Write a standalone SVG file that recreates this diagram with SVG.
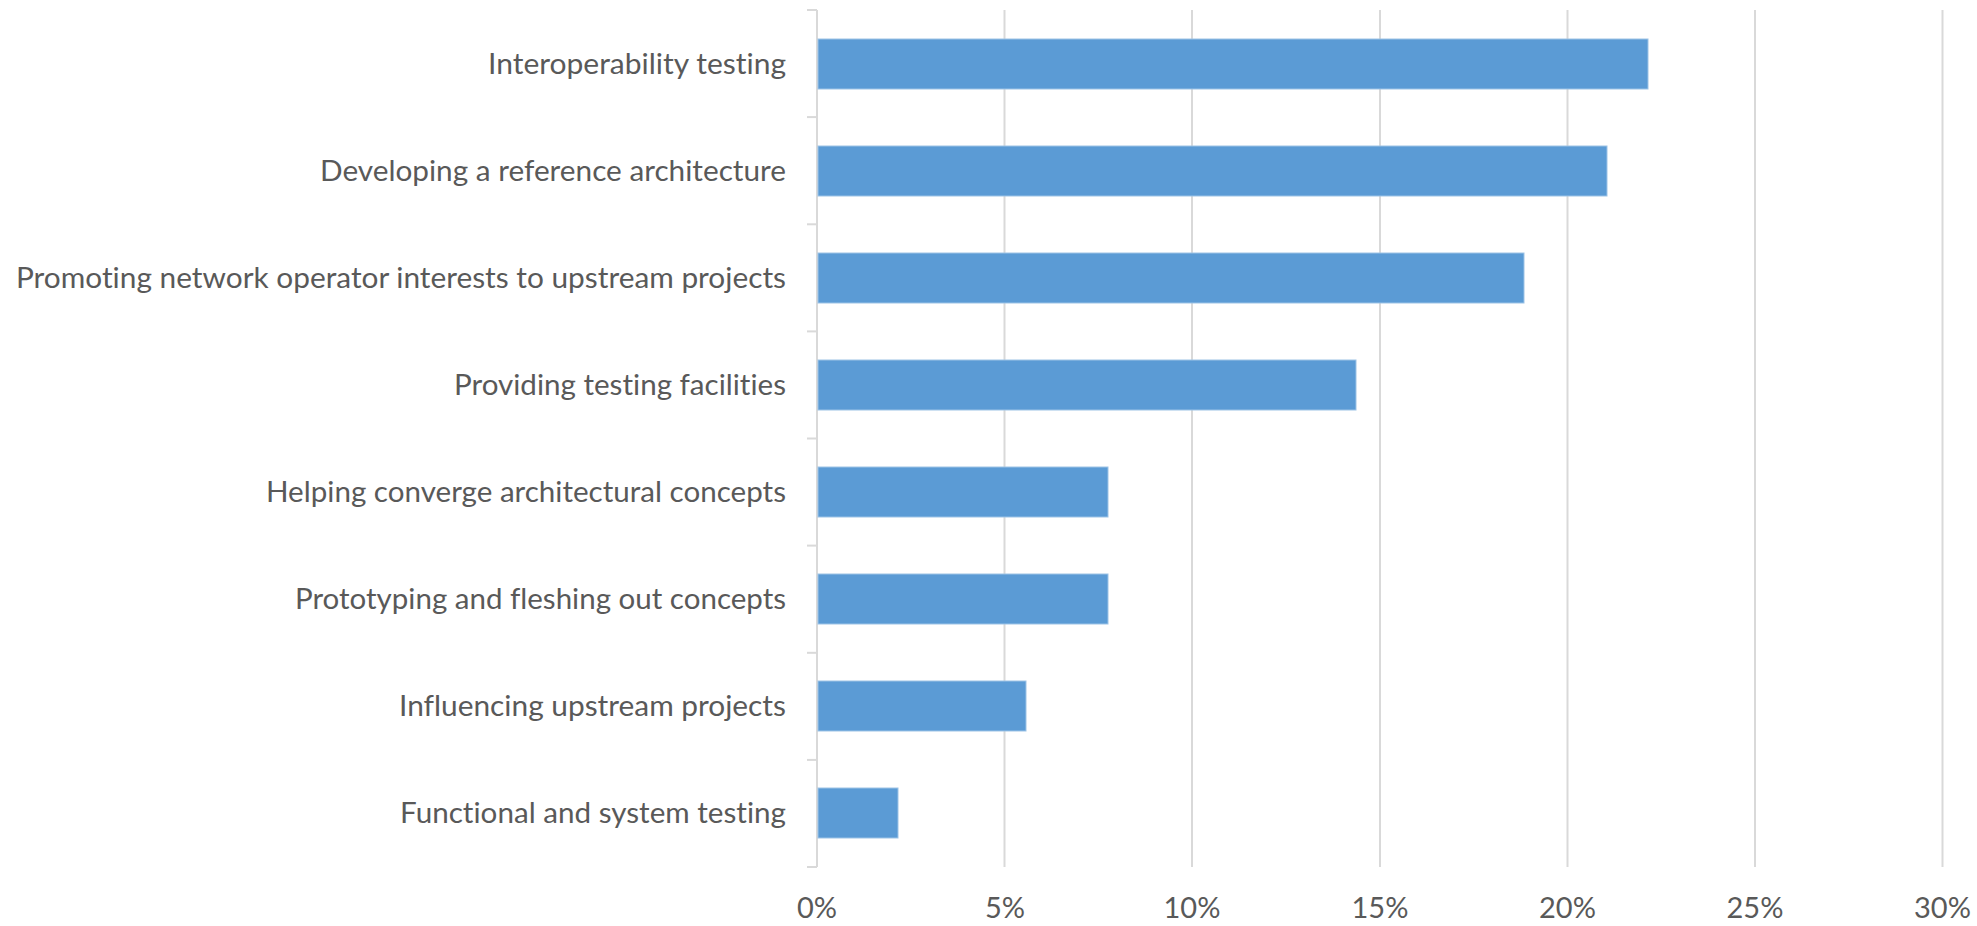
<svg xmlns="http://www.w3.org/2000/svg" width="1977" height="926" viewBox="0 0 1977 926">
<style>
.grid{stroke:#D9D9D9;stroke-width:2;fill:none}
.bar{fill:#5B9BD5;stroke:#9DC3E6;stroke-width:1}
.lbl{font-family:Lato,"Open Sans","Liberation Sans",sans-serif;font-size:29px;fill:#595959;text-anchor:end;font-variant-ligatures:none;font-feature-settings:"liga" 0,"clig" 0,"dlig" 0,"calt" 0}
.tick{font-family:Lato,"Open Sans","Liberation Sans",sans-serif;font-size:29px;fill:#595959;text-anchor:middle}
</style>
<rect width="1977" height="926" fill="#FFFFFF"/>
<g id="gridlines">
<line class="grid" x1="1004.5" y1="10" x2="1004.5" y2="867"/>
<line class="grid" x1="1192" y1="10" x2="1192" y2="867"/>
<line class="grid" x1="1380" y1="10" x2="1380" y2="867"/>
<line class="grid" x1="1567.5" y1="10" x2="1567.5" y2="867"/>
<line class="grid" x1="1755" y1="10" x2="1755" y2="867"/>
<line class="grid" x1="1942.5" y1="10" x2="1942.5" y2="867"/>
</g>
<g id="axis">
<line class="grid" x1="817" y1="10" x2="817" y2="867"/>
<line class="grid" x1="807" y1="10" x2="817" y2="10"/>
<line class="grid" x1="807" y1="117.1" x2="817" y2="117.1"/>
<line class="grid" x1="807" y1="224.3" x2="817" y2="224.3"/>
<line class="grid" x1="807" y1="331.4" x2="817" y2="331.4"/>
<line class="grid" x1="807" y1="438.5" x2="817" y2="438.5"/>
<line class="grid" x1="807" y1="545.6" x2="817" y2="545.6"/>
<line class="grid" x1="807" y1="652.8" x2="817" y2="652.8"/>
<line class="grid" x1="807" y1="759.9" x2="817" y2="759.9"/>
<line class="grid" x1="807" y1="867" x2="817" y2="867"/>
</g>
<g id="bars">
<rect class="bar" x="818" y="39" width="830" height="50"/>
<rect class="bar" x="818" y="146" width="789" height="50"/>
<rect class="bar" x="818" y="253" width="706" height="50"/>
<rect class="bar" x="818" y="360" width="538" height="50"/>
<rect class="bar" x="818" y="467" width="290" height="50"/>
<rect class="bar" x="818" y="574" width="290" height="50"/>
<rect class="bar" x="818" y="681" width="208" height="50"/>
<rect class="bar" x="818" y="788" width="80" height="50"/>
</g>
<g id="labels">
<text class="lbl" x="786" y="74" textLength="298" lengthAdjust="spacingAndGlyphs">Interoperability testing</text>
<text class="lbl" x="786" y="181" textLength="466" lengthAdjust="spacingAndGlyphs">Developing a reference architecture</text>
<text class="lbl" x="786" y="288" textLength="770" lengthAdjust="spacingAndGlyphs">Promoting network operator interests to upstream projects</text>
<text class="lbl" x="786" y="395" textLength="332" lengthAdjust="spacingAndGlyphs">Providing testing facilities</text>
<text class="lbl" x="786" y="502" textLength="520" lengthAdjust="spacingAndGlyphs">Helping converge architectural concepts</text>
<text class="lbl" x="786" y="609" textLength="491" lengthAdjust="spacingAndGlyphs">Prototyping and fleshing out concepts</text>
<text class="lbl" x="786" y="716" textLength="387" lengthAdjust="spacingAndGlyphs">Influencing upstream projects</text>
<text class="lbl" x="786" y="823" textLength="386" lengthAdjust="spacingAndGlyphs">Functional and system testing</text>
</g>
<g id="ticklabels">
<text class="tick" x="817" y="918">0%</text>
<text class="tick" x="1005" y="918">5%</text>
<text class="tick" x="1192" y="918">10%</text>
<text class="tick" x="1380" y="918">15%</text>
<text class="tick" x="1567.5" y="918">20%</text>
<text class="tick" x="1755" y="918">25%</text>
<text class="tick" x="1942.5" y="918">30%</text>
</g>
</svg>
